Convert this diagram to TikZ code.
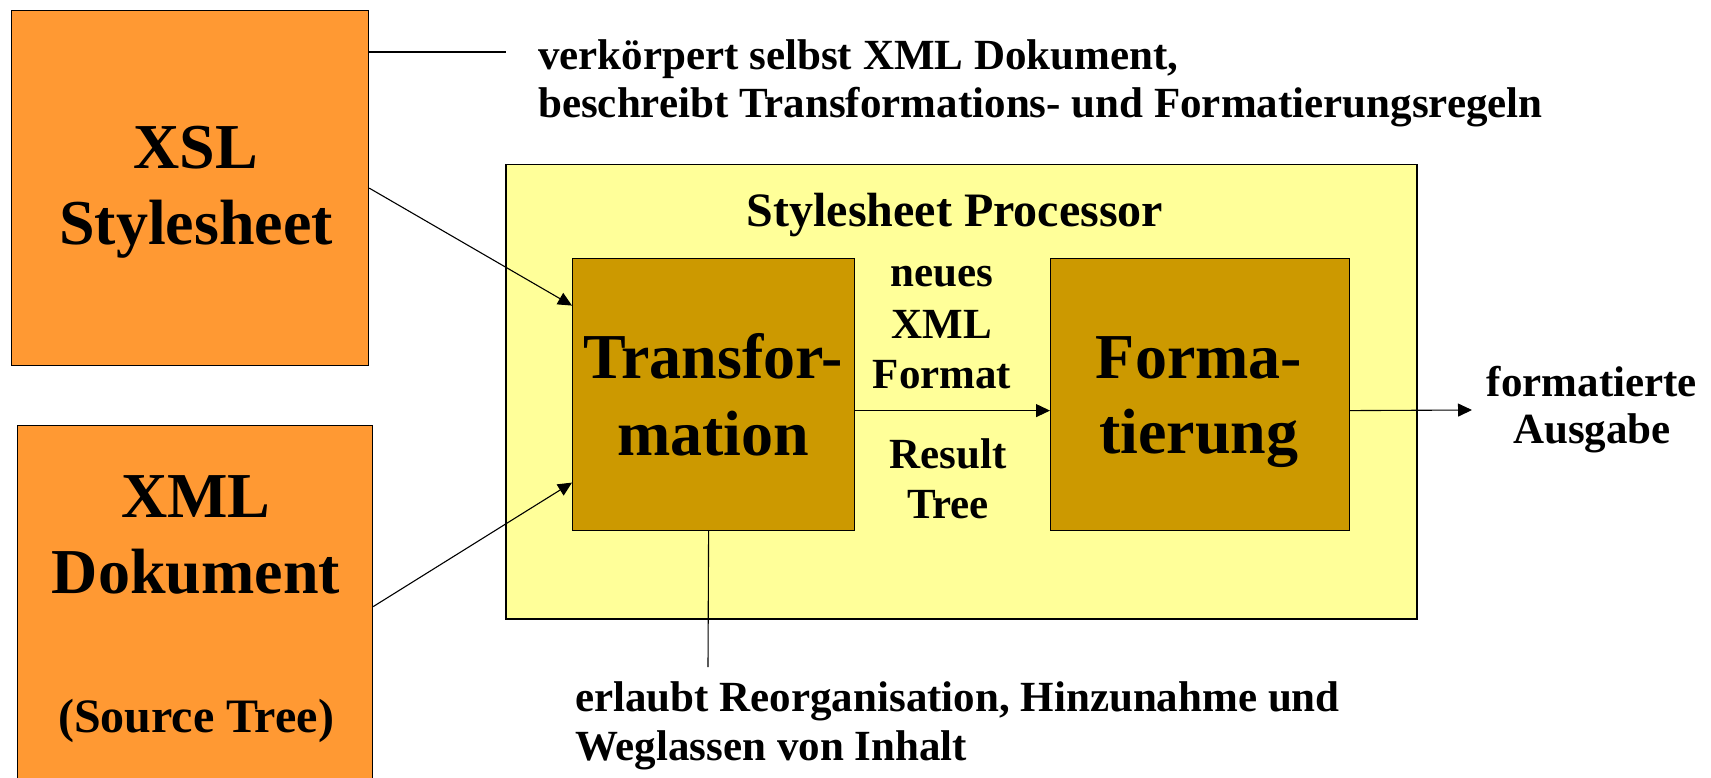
\documentclass[tikz,border=0pt]{standalone}
\usepackage{fontspec}
\setmainfont{Liberation Serif}
\usetikzlibrary{arrows.meta,calc}
\definecolor{srcorange}{RGB}{255,153,51}
\definecolor{procyellow}{RGB}{255,255,153}
\definecolor{stagegold}{RGB}{204,153,0}
\begin{document}
\begin{tikzpicture}[x=1pt,y=-1pt,
  block/.style={draw=black,line width=1.2pt,anchor=north west,inner sep=0pt},
  bigtxt/.style={anchor=base,inner sep=0pt,font=\fontsize{64}{77}\selectfont\bfseries},
  midtxt/.style={anchor=base,inner sep=0pt,font=\fontsize{48}{58}\selectfont\bfseries},
  smalltxt/.style={anchor=base,inner sep=0pt,font=\fontsize{43}{50}\selectfont\bfseries},
  conn/.style={draw=black,line width=1.1pt,-{Triangle[length=14pt,width=13pt]}},
  plainline/.style={draw=black,line width=1.1pt}]
\useasboundingbox (0,0) rectangle (1711,778);
\fill[white] (0,0) rectangle (1711,778);

% source documents
\node[block,fill=srcorange,minimum width=357pt,minimum height=355pt] (xsl) at (11,10) {};
\node[block,fill=srcorange,minimum width=355pt,minimum height=362pt] (xml) at (17,425) {};

% processor frame and its two stages
\node[block,fill=procyellow,line width=1.5pt,minimum width=911pt,minimum height=454pt] (proc) at (505,164) {};
\node[block,fill=stagegold,minimum width=282pt,minimum height=272pt] (trans) at (572,258) {};
\node[block,fill=stagegold,minimum width=299pt,minimum height=272pt] (form) at (1050,258) {};

% box titles
\node[bigtxt] (xslA) at (196,169) {XSL};
\node[bigtxt] (xslB) at (196,245) {Stylesheet};
\node[bigtxt] (xmlA) at (196,517) {XML};
\node[bigtxt] (xmlB) at (196,593) {Dokument};
\node[midtxt] (xmlC) at (196,732) {(Source Tree)};
\node[midtxt] (procT) at (955,227) {Stylesheet Processor};
\node[bigtxt] (transA) at (713,378) {Transfor-};
\node[bigtxt] (transB) at (713,455) {mation};
\node[bigtxt] (formA) at (1199,378) {Forma-};
\node[bigtxt] (formB) at (1199,453) {tierung};

% labels between the stages
\node[smalltxt] (mA) at (942,287) {neues};
\node[smalltxt] (mB) at (942,338) {XML};
\node[smalltxt] (mC) at (942,388) {Format};
\node[smalltxt] (mD) at (948,468) {Result};
\node[smalltxt] (mE) at (948,518) {Tree};

% output label
\node[smalltxt] (outA) at (1592,396) {formatierte};
\node[smalltxt] (outB) at (1592,443) {Ausgabe};

% annotations
\node[smalltxt,anchor=base west] (noteA) at (538,70) {verkörpert selbst XML Dokument,};
\node[smalltxt,anchor=base west] (noteB) at (538,118) {beschreibt Transformations- und Formatierungsregeln};
\node[smalltxt,anchor=base west] (noteC) at (575,711) {erlaubt Reorganisation, Hinzunahme und};
\node[smalltxt,anchor=base west] (noteD) at (575,760) {Weglassen von Inhalt};

% connectors
\coordinate (noteEnd) at (506,52);
\coordinate (transNoteEnd) at (708,667);
\coordinate (outTip) at (1472,410);
\draw[plainline] ($(xsl.north east)+(0,42)$) -- (noteEnd);
\draw[conn] (xsl.east) -- ($(trans.west)+(0,-89)$);
\draw[conn] (xml.east) -- ($(trans.west)+(0,88)$);
\draw[conn] ($(trans.east)+(0,16)$) -- ($(form.west)+(0,16)$);
\draw[conn] ($(form.east)+(0,16)$) -- (outTip);
\draw[plainline] ($(trans.south)+(-5,0)$) -- (transNoteEnd);
\end{tikzpicture}
\end{document}
